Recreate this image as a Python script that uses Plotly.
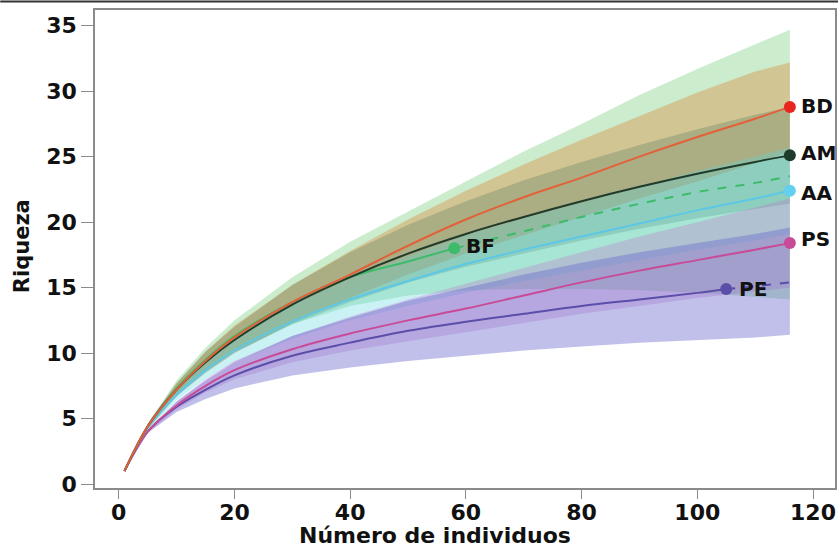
import plotly.graph_objects as go

# grid of sample sizes (number of individuals)
grid = [1, 5, 10, 15, 20, 30, 40, 50, 60, 70, 80, 90, 100, 110, 116]

# ---- BD ----
bd_est = [1, 4.4, 7.2, 9.4, 11.2, 13.9, 16.0, 18.2, 20.2, 21.9, 23.4, 25.0, 26.5, 27.9, 28.8]
bd_low = [1, 4.2, 6.7, 8.5, 10.0, 12.3, 14.2, 16.0, 17.6, 19.0, 20.4, 21.8, 23.1, 24.5, 25.4]
bd_up = [1, 4.6, 7.7, 10.1, 12.1, 15.2, 17.8, 20.2, 22.4, 24.4, 26.3, 28.1, 29.9, 31.5, 32.2]
# ---- AM ----
am_est = [1, 4.4, 7.2, 9.3, 11.0, 13.7, 15.8, 17.6, 19.1, 20.4, 21.6, 22.7, 23.7, 24.6, 25.1]
am_low = [1, 4.2, 6.7, 8.5, 10.0, 12.2, 13.9, 15.4, 16.6, 17.6, 18.6, 19.5, 20.3, 21.0, 21.4]
am_up = [1, 4.6, 7.7, 10.1, 12.0, 15.2, 17.7, 19.8, 21.6, 23.2, 24.6, 25.9, 27.1, 28.2, 28.8]
# ---- AA ----
aa_est = [1, 4.3, 6.8, 8.7, 10.2, 12.4, 14.1, 15.5, 16.8, 17.9, 18.9, 19.9, 20.9, 21.8, 22.4]
aa_low = [1, 4.1, 6.4, 8.0, 9.3, 11.1, 12.5, 13.6, 14.6, 15.5, 16.3, 17.1, 17.9, 18.6, 19.1]
aa_up = [1, 4.5, 7.2, 9.4, 11.1, 13.7, 15.7, 17.4, 19.0, 20.3, 21.5, 22.7, 23.9, 25.0, 25.7]
# ---- PS ----
ps_est = [1, 4.0, 6.0, 7.5, 8.7, 10.3, 11.5, 12.5, 13.4, 14.4, 15.4, 16.3, 17.1, 17.9, 18.4]
ps_low = [1, 3.9, 5.7, 7.0, 8.0, 9.3, 10.2, 10.9, 11.6, 12.3, 13.0, 13.6, 14.2, 14.7, 15.0]
ps_up = [1, 4.1, 6.3, 8.0, 9.4, 11.3, 12.8, 14.1, 15.3, 16.5, 17.7, 18.9, 20.0, 21.1, 21.8]
# ---- PE ----
pe_x_obs = [1, 5, 10, 15, 20, 30, 40, 50, 60, 70, 80, 90, 100, 105]
pe_est_obs = [1, 4.0, 5.9, 7.2, 8.3, 9.8, 10.8, 11.7, 12.4, 13.0, 13.6, 14.1, 14.6, 14.9]
pe_x_ext = [105, 110, 116]
pe_est_ext = [14.9, 15.1, 15.4]
pe_low = [1, 3.9, 5.5, 6.5, 7.3, 8.3, 8.9, 9.4, 9.8, 10.2, 10.5, 10.8, 11.0, 11.2, 11.4]
pe_up = [1, 4.1, 6.3, 7.9, 9.3, 11.3, 12.7, 14.0, 15.0, 16.0, 16.9, 17.7, 18.4, 19.1, 19.6]
# ---- BF ----
bf_x_obs = [1, 5, 10, 15, 20, 30, 40, 50, 58]
bf_est_obs = [1, 4.4, 7.3, 9.5, 11.3, 13.9, 15.8, 17.0, 18.0]
bf_x_ext = [58, 70, 80, 90, 100, 110, 116]
bf_est_ext = [18.0, 19.3, 20.4, 21.4, 22.3, 23.0, 23.5]
bf_low = [1, 4.2, 6.8, 8.6, 10.1, 12.2, 13.6, 14.4, 14.8, 14.9, 14.9, 14.8, 14.6, 14.3, 14.1]
bf_up = [1, 4.6, 7.9, 10.4, 12.5, 15.8, 18.5, 20.8, 23.1, 25.4, 27.5, 29.7, 31.7, 33.6, 34.7]

# end points and labels
labels = ["BD", "AM", "AA", "PS", "PE", "BF"]
end_x = [116, 116, 116, 116, 105, 58]
end_y = [28.8, 25.1, 22.4, 18.4, 14.9, 18.0]
label_x = [117.5, 117.5, 117.5, 117.5, 106.8, 59.6]
label_y = [28.9, 25.3, 22.2, 18.7, 14.9, 18.2]

line_col = {"BD": "#e2603a", "AM": "#1f3b2c", "AA": "#5cc8e6", "PS": "#c84b97", "PE": "#5b4ea8", "BF": "#3dbb6a"}
mark_col = {"BD": "#e8261f", "AM": "#1f3b2c", "AA": "#62d0ee", "PS": "#c84b97", "PE": "#5b4ea8", "BF": "#3dbb6a"}
band_col = {"BF": "rgba(120,205,125,0.38)", "BD": "rgba(220,135,55,0.38)", "AM": "rgba(50,100,80,0.24)",
            "AA": "rgba(90,215,225,0.32)", "PS": "rgba(200,100,200,0.28)", "PE": "rgba(105,105,205,0.42)"}

fig = go.Figure()

bands = [("BF", bf_low, bf_up), ("BD", bd_low, bd_up), ("AM", am_low, am_up),
         ("AA", aa_low, aa_up), ("PS", ps_low, ps_up), ("PE", pe_low, pe_up)]
for name, lo, up in bands:
    fig.add_trace(go.Scatter(x=grid + grid[::-1], y=up + lo[::-1], fill="toself",
                             fillcolor=band_col[name], line=dict(width=0),
                             hoverinfo="skip", showlegend=False))

solid = [("PE", pe_x_obs, pe_est_obs), ("PS", grid, ps_est), ("AA", grid, aa_est),
         ("BF", bf_x_obs, bf_est_obs), ("AM", grid, am_est), ("BD", grid, bd_est)]
for name, xs, ys in solid:
    fig.add_trace(go.Scatter(x=xs, y=ys, mode="lines", line=dict(color=line_col[name], width=2, shape="spline"),
                             showlegend=False))

for name, xs, ys in [("PE", pe_x_ext, pe_est_ext), ("BF", bf_x_ext, bf_est_ext)]:
    fig.add_trace(go.Scatter(x=xs, y=ys, mode="lines",
                             line=dict(color=line_col[name], width=2, dash="dash", shape="spline"),
                             showlegend=False))

fig.add_trace(go.Scatter(x=end_x, y=end_y, mode="markers",
                         marker=dict(size=12, color=[mark_col[l] for l in labels]),
                         showlegend=False))

FONT = "DejaVu Sans"
for lab, lx, ly in zip(labels, label_x, label_y):
    fig.add_annotation(x=lx, y=ly, text=lab, showarrow=False, xanchor="left", yanchor="middle",
                       font=dict(family=FONT, size=20, color="#111", weight="bold"))

fig.add_annotation(xref="paper", yref="paper", x=(22 - 95) / 742, y=(488 - 246) / 478, text="Riqueza",
                   textangle=-90, showarrow=False, xanchor="center", yanchor="middle",
                   font=dict(family=FONT, size=21, color="#111", weight="bold"))
fig.add_annotation(xref="paper", yref="paper", x=(436 - 95) / 742, y=-(535 - 488) / 478,
                   text="Número de individuos", showarrow=False, xanchor="center", yanchor="middle",
                   font=dict(family=FONT, size=22, color="#111", weight="bold"))

fig.add_shape(type="line", xref="paper", yref="paper", x0=-95 / 742, x1=1 + 3 / 742,
              y0=(488 - 1.5) / 478, y1=(488 - 1.5) / 478, line=dict(color="#333", width=2))

tickfont = dict(family=FONT, size=22, color="#111", weight="bold")
fig.update_layout(
    width=840, height=550, paper_bgcolor="white", plot_bgcolor="white",
    margin=dict(l=95, r=3, t=10, b=62),
    xaxis=dict(range=[-4.1, 123.8], tickvals=[0, 20, 40, 60, 80, 100, 120], showgrid=False, zeroline=False,
               showline=True, mirror=True, linecolor="#8a8a8a", linewidth=1.5, ticks="outside", ticklen=9,
               tickcolor="#8a8a8a", tickfont=tickfont, ticklabelstandoff=-5),
    yaxis=dict(range=[-0.3, 36.2], tickvals=[0, 5, 10, 15, 20, 25, 30, 35], showgrid=False, zeroline=False,
               showline=True, mirror=True, linecolor="#8a8a8a", linewidth=1.5, ticks="outside", ticklen=12,
               tickcolor="#8a8a8a", tickfont=tickfont),
)

fig.write_html("out.html", config={"displayModeBar": False},
               post_script="document.body.style.margin='0';")
